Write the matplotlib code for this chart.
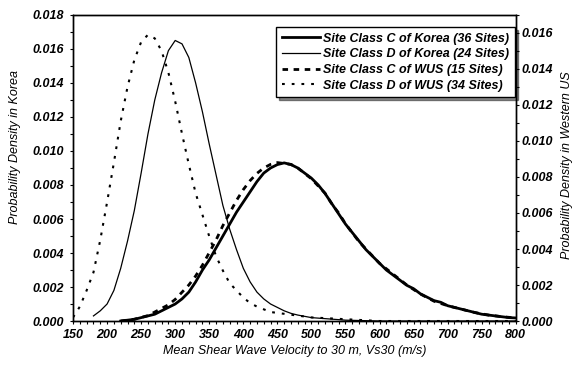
import numpy as np
import matplotlib
matplotlib.use("Agg")
import matplotlib.pyplot as plt
from matplotlib.ticker import MultipleLocator, FormatStrFormatter

plt.rcParams['font.family'] = ['Liberation Sans', 'DejaVu Sans']
plt.rcParams['font.weight'] = 'bold'
plt.rcParams['font.style'] = 'italic'
plt.rcParams['lines.scale_dashes'] = False

# Korea, site class C (left axis)
kor_c_x = [220, 240, 250, 260, 270, 280, 290, 300, 310, 320, 330, 340, 350, 360, 370,
           380, 390, 400, 410, 420, 430, 440, 450, 460, 470, 480, 490, 500, 510, 520,
           530, 540, 550, 560, 570, 580, 590, 600, 610, 620, 630, 640, 650, 660, 670,
           680, 690, 700, 710, 720, 730, 740, 750, 760, 770, 780, 790, 800]
kor_c_y = [0.0000, 0.0001, 0.0002, 0.0003, 0.0004, 0.0006, 0.0008, 0.0010, 0.0013, 0.0017,
           0.0023, 0.0030, 0.0036, 0.0043, 0.0050, 0.0057, 0.0064, 0.0070, 0.0076, 0.0082,
           0.0087, 0.0090, 0.0092, 0.0093, 0.0092, 0.0090, 0.0087, 0.0084, 0.0080, 0.0075,
           0.0069, 0.0063, 0.0057, 0.0052, 0.0047, 0.0042, 0.0038, 0.0034, 0.0030, 0.0027,
           0.0024, 0.0021, 0.0019, 0.0016, 0.0014, 0.0012, 0.0011, 0.0009, 0.0008, 0.0007,
           0.0006, 0.0005, 0.0004, 0.00035, 0.0003, 0.00025, 0.0002, 0.00018]

# Korea, site class D (left axis)
kor_d_x = [180, 190, 200, 210, 220, 230, 240, 250, 260, 270, 280, 290, 300, 310, 320,
           330, 340, 350, 360, 370, 380, 390, 400, 410, 420, 430, 440, 450, 460, 470,
           480, 500, 550, 600, 800]
kor_d_y = [0.0003, 0.0006, 0.0010, 0.0018, 0.0031, 0.0047, 0.0065, 0.0087, 0.0110, 0.0130,
           0.0146, 0.0159, 0.0165, 0.0163, 0.0155, 0.0140, 0.0123, 0.0104, 0.0086, 0.0068,
           0.0054, 0.0042, 0.0031, 0.0023, 0.0017, 0.0013, 0.0010, 0.0008, 0.0006, 0.00045,
           0.00035, 0.0002, 0.00005, 0.0, 0.0]

# WUS, site class C (right axis)
wus_c_x = [220, 240, 260, 270, 280, 290, 300, 310, 320, 330, 340, 350, 360, 370, 380,
           390, 400, 410, 420, 430, 440, 450, 460, 470, 480, 490, 500, 510, 520, 530,
           540, 550, 560, 570, 580, 590, 600, 620, 640, 660, 680, 700, 720, 740, 760,
           780, 800]
wus_c_y = [0.0000, 0.0001, 0.0003, 0.0005, 0.0007, 0.0009, 0.0012, 0.0016, 0.0020, 0.0025,
           0.0031, 0.0038, 0.0045, 0.0053, 0.0060, 0.0067, 0.0073, 0.0078, 0.0082, 0.0085,
           0.0087, 0.0088, 0.00875, 0.0087, 0.0085, 0.0082, 0.0079, 0.0075, 0.0071, 0.0065,
           0.0060, 0.0054, 0.0049, 0.0044, 0.0040, 0.0036, 0.0032, 0.0026, 0.0020, 0.0015,
           0.0011, 0.00085, 0.00066, 0.00047, 0.00033, 0.00024, 0.00017]

# WUS, site class D (right axis)
wus_d_x = [150, 160, 170, 180, 190, 200, 210, 220, 230, 240, 250, 260, 270, 280, 290,
           300, 310, 320, 330, 340, 350, 360, 370, 380, 390, 400, 410, 420, 430, 440,
           460, 480, 500, 550, 600, 800]
wus_d_y = [0.0002, 0.0008, 0.0017, 0.0027, 0.0045, 0.0066, 0.0088, 0.0111, 0.0130, 0.0145,
           0.0155, 0.0159, 0.0157, 0.0150, 0.0138, 0.0122, 0.0104, 0.0087, 0.0071, 0.0059,
           0.0047, 0.0036, 0.0028, 0.0021, 0.0017, 0.0013, 0.0010, 0.0008, 0.00065, 0.0005,
           0.0004, 0.0003, 0.0002, 0.0001, 0.0, 0.0]

labels = ['Site Class C of Korea (36 Sites)', 'Site Class D of Korea (24 Sites)',
          'Site Class C of WUS (15 Sites)', 'Site Class D of WUS (34 Sites)']

fig = plt.figure(figsize=(5.75, 3.65), dpi=100)
ax = fig.add_axes([0.127, 0.1205, 0.770, 0.8385])
ax2 = ax.twinx()

l1, = ax.plot(kor_c_x, kor_c_y, color='black', lw=2.0, label=labels[0], zorder=3)
l2, = ax.plot(kor_d_x, kor_d_y, color='black', lw=0.9, label=labels[1], zorder=3)
l3, = ax2.plot(wus_c_x, wus_c_y, color='black', lw=2.0, dashes=(4, 4), label=labels[2])
l4, = ax2.plot(wus_d_x, wus_d_y, color='black', lw=1.5, dashes=(2, 5), label=labels[3])

ax.set_xlim(150, 800)
ax.set_ylim(0, 0.018)
ax2.set_ylim(0, 0.017)

ax.xaxis.set_major_locator(MultipleLocator(50))
ax.xaxis.set_minor_locator(MultipleLocator(10))
ax.yaxis.set_major_locator(MultipleLocator(0.002))
ax.yaxis.set_minor_locator(MultipleLocator(0.001))
ax.yaxis.set_major_formatter(FormatStrFormatter('%.3f'))
ax2.yaxis.set_major_locator(MultipleLocator(0.002))
ax2.yaxis.set_minor_locator(MultipleLocator(0.001))
ax2.yaxis.set_major_formatter(FormatStrFormatter('%.3f'))

for a in (ax, ax2):
    a.tick_params(which='both', direction='out', length=2.5, width=0.8, labelsize=9)
    for s in a.spines.values():
        s.set_linewidth(1.0)
ax.tick_params(axis='y', pad=4)
ax.tick_params(axis='x', pad=3)
ax2.tick_params(axis='y', pad=1.5)

ax.set_xlabel('Mean Shear Wave Velocity to 30 m, Vs30 (m/s)', fontsize=9, labelpad=3)
ax.set_ylabel('Probability Density in Korea', fontsize=9)
ax.yaxis.set_label_coords(-0.118, 0.57)
ax2.set_ylabel('Probability Density in Western US', fontsize=9, rotation=90)
ax2.yaxis.set_label_coords(1.102, 0.51)

leg = ax2.legend(handles=[l1, l2, l3, l4], loc='upper right',
                 bbox_to_anchor=(0.998, 0.961), borderaxespad=0, fontsize=9,
                 fancybox=False, edgecolor='black', framealpha=1,
                 handlelength=3.0, handletextpad=0.3, labelspacing=0.3,
                 borderpad=0.45, shadow={'color': 'black', 'alpha': 0.45})
leg.get_frame().set_linewidth(1.0)

fig.savefig('out.png', dpi=100)
